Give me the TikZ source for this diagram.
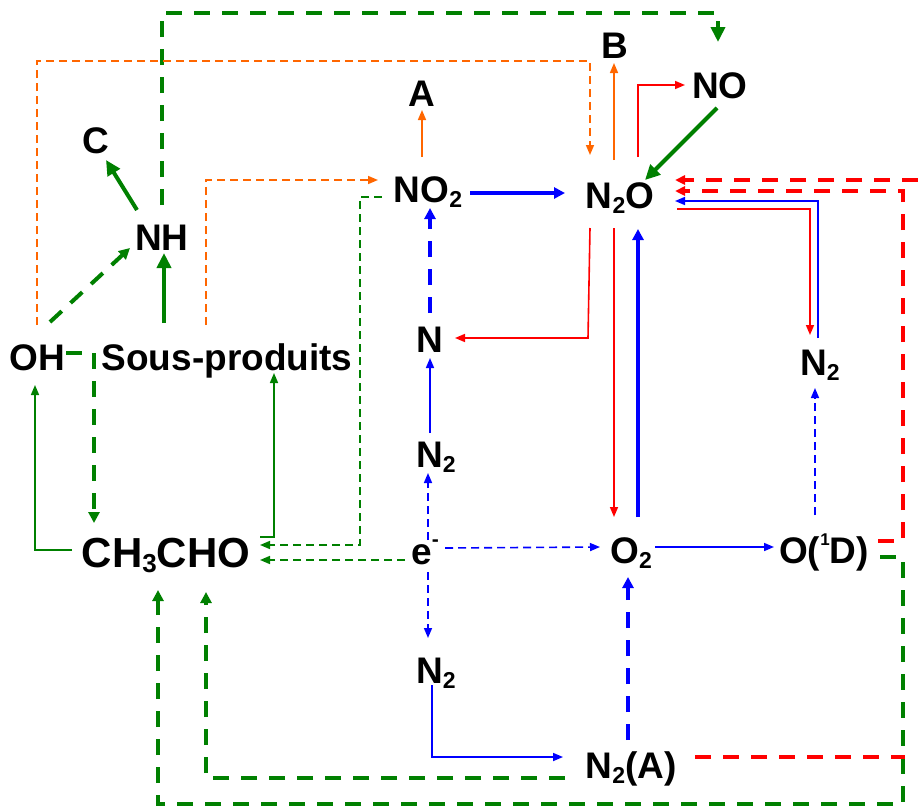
\documentclass[tikz,border=0pt]{standalone}
\usepackage{fontspec}
\setmainfont{Liberation Sans}
\usetikzlibrary{arrows.meta,calc}
\definecolor{cgreen}{RGB}{0,128,0}
\definecolor{corange}{RGB}{255,102,0}
\definecolor{cred}{RGB}{255,0,0}
\definecolor{cblue}{RGB}{0,0,255}
\newcommand\chsub[1]{\raisebox{-5pt}{\fontsize{23}{23}\selectfont #1}}
\newcommand\chsubb[1]{\raisebox{-5pt}{\fontsize{26}{26}\selectfont #1}}
\newcommand\chsup[1]{\raisebox{18pt}{\fontsize{17}{17}\selectfont #1}}
\newcommand\chminus{\raisebox{18pt}{\fontsize{21}{21}\selectfont -}}
\begin{document}
\begin{tikzpicture}[x=1pt,y=-1pt,
 lbl/.style={font=\fontsize{37}{40}\selectfont\bfseries, inner sep=0pt, text height=26pt, text depth=0pt, anchor=base},
 big/.style={lbl, font=\fontsize{42}{46}\selectfont\bfseries, text height=30pt},
 arrthin/.style={line width=1.6pt, -{Triangle[length=10pt,width=8pt]}},
 arrthick/.style={line width=4pt, -{Triangle[length=11pt,width=11pt]}},
 arrbig/.style={line width=4pt, -{Triangle[length=15pt,width=14pt]}},
 arrred/.style={line width=4pt, -{Triangle[length=10pt,width=9pt]}},
 tdash/.style={dash pattern=on 8pt off 5pt},
 Tdash/.style={dash pattern=on 16pt off 12pt},
]
\useasboundingbox (0,0) rectangle (918,807);
% nodes
\node[lbl] (C) at (96,153) {C};
\node[lbl] (NH) at (162,250) {NH};
\node[lbl] (OH) at (37,370) {OH};
\node[lbl] (SP) at (227,370) {Sous-produits};
\node[big] (CH) at (166,567) {CH\chsubb{3}CHO};
\node[lbl] (A) at (422,106) {A};
\node[lbl] (NOtwo) at (428,202) {NO\chsub{2}};
\node[lbl] (N) at (430,352) {N};
\node[lbl] (Nm) at (436,467) {N\chsub{2}};
\node[lbl] (E) at (425,564) {e\chminus};
\node[lbl] (Nb) at (436,683) {N\chsub{2}};
\node[lbl] (B) at (615,58) {B};
\node[lbl] (NO) at (720,98) {NO};
\node[lbl] (NtO) at (620,208) {N\chsub{2}O};
\node[lbl] (Nr) at (820,375) {N\chsub{2}};
\node[lbl] (Ot) at (631,563) {O\chsub{2}};
\node[lbl] (OD) at (824,563) {O(\chsup{1}D)};
\node[lbl] (NA) at (631,778) {N\chsub{2}(A)};
\coordinate (redin) at (918,180);
\coordinate (redout) at (905,757);
% green
\draw[arrbig, Tdash, cgreen] ($(NH.base)+(0,-45)$) -- (162,13) -| ($(NO.base)+(-2,-56)$);
\draw[arrbig, cgreen] ($(NO.base)+(-3,10)$) -- ($(NtO.base)+(25,-28)$);
\draw[arrthin, tdash, cgreen] ($(NOtwo.base)+(-46,-5)$) -- (360,197) |- ($(CH.base)+(94,-22)$);
\draw[arrthin, tdash, cgreen] ($(E.base)+(-20,-4)$) -- ($(CH.base)+(94,-7)$);
\draw[arrbig, cgreen] ($(NH.base)+(-25,-40)$) -- ($(C.base)+(10,7)$);
\draw[arrthick, Tdash, cgreen] ($(OH.base)+(13,-48)$) -- ($(NH.base)+(-32,-2)$);
\draw[arrbig, cgreen] ($(SP.base)+(-63,-47)$) -- ($(NH.base)+(2,3)$);
\draw[arrthick, Tdash, cgreen] ($(OH.base)+(29,-17)$) -| ($(CH.base)+(-72,-44)$);
\draw[arrthin, cgreen] ($(CH.base)+(-94,-17)$) -| ($(OH.base)+(-2,15)$);
\draw[arrthin, cgreen] ($(CH.base)+(94,-30)$) -| ($(SP.base)+(47,3)$);
\draw[arrthick, Tdash, cgreen] ($(NA.base)+(-66,0)$) -| ($(CH.base)+(40,25)$);
\draw[arrthick, Tdash, cgreen] ($(OD.base)+(56,-6)$) -- (903,557) |- (158,804) -- ($(CH.base)+(-8,23)$);
% orange
\draw[arrthin, tdash, corange] ($(OH.base)+(0,-45)$) -- (37,61) -| ($(NtO.base)+(-30,-53)$);
\draw[arrthin, corange] ($(NOtwo.base)+(-6,-45)$) -- ($(A.base)+(0,4)$);
\draw[arrthin, corange] ($(NtO.base)+(-6,-48)$) -- ($(B.base)+(-1,5)$);
\draw[arrthin, tdash, corange] ($(SP.base)+(-21,-45)$) |- ($(NOtwo.base)+(-50,-22)$);
% red
\draw[arrthin, cred] ($(NtO.base)+(18,-51)$) |- ($(NO.base)+(-35,-13)$);
\draw[arrred, Tdash, cred] ($(OD.base)+(54,-22)$) -- (903,541) |- ($(NtO.base)+(55,-17)$);
\draw[arrred, Tdash, cred] (redin) -- ($(NtO.base)+(55,-28)$);
\draw[line width=4pt, Tdash, cred] ($(NA.base)+(64,-21)$) -- (redout);
\draw[arrthin, cred] ($(NtO.base)+(57,1)$) -| ($(Nr.base)+(-10,-40)$);
\draw[arrthin, cred] ($(NtO.base)+(-30,20)$) -- (588,338) -- ($(N.base)+(25,-14)$);
\draw[arrthin, cred] ($(NtO.base)+(-6,20)$) -- ($(Ot.base)+(-17,-46)$);
% blue
\draw[arrthick, cblue] ($(NOtwo.base)+(42,-9)$) -- ($(NtO.base)+(-55,-15)$);
\draw[arrthick, Tdash, cblue] ($(N.base)+(0,-39)$) -- ($(NOtwo.base)+(2,6)$);
\draw[arrthin, cblue] ($(Nm.base)+(-6,-34)$) -- ($(N.base)+(0,6)$);
\draw[arrthin, tdash, cblue] ($(E.base)+(3,-24)$) -- ($(Nm.base)+(-8,6)$);
\draw[arrthin, tdash, cblue] ($(E.base)+(3,8)$) -- ($(Nb.base)+(-8,-45)$);
\draw[arrthin, tdash, cblue] ($(E.base)+(20,-16)$) -- ($(Ot.base)+(-31,-16)$);
\draw[arrthin, cblue] ($(Nb.base)+(-4,2)$) |- ($(NA.base)+(-68,-21)$);
\draw[arrthick, Tdash, cblue] ($(NA.base)+(-3,-38)$) -- ($(Ot.base)+(-3,14)$);
\draw[arrthick, cblue] ($(Ot.base)+(7,-46)$) -- ($(NtO.base)+(18,21)$);
\draw[arrthin, cblue] ($(Ot.base)+(24,-16)$) -- ($(OD.base)+(-50,-16)$);
\draw[arrthin, tdash, cblue] ($(OD.base)+(-9,-48)$) -- ($(Nr.base)+(-5,13)$);
\draw[arrthin, cblue] ($(Nr.base)+(-2,-37)$) |- ($(NtO.base)+(55,-7)$);
\end{tikzpicture}
\end{document}
